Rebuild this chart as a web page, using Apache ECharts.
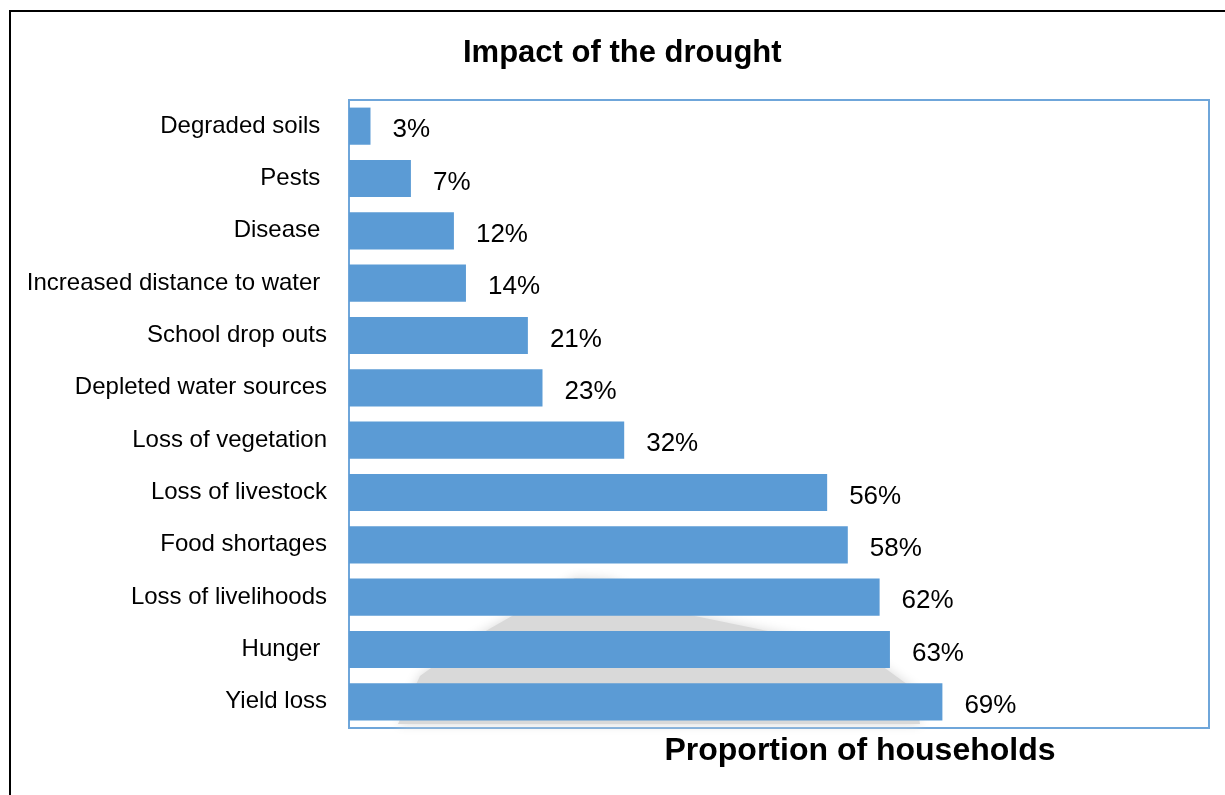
<!DOCTYPE html>
<html>
<head>
<meta charset="utf-8">
<script src="https://cdn.jsdelivr.net/npm/echarts@6/dist/echarts.min.js"></script>
<style>
html,body{margin:0;padding:0;background:#fff;}
#chart{width:1225px;height:795px;}
</style>
</head>
<body>
<div id="chart"></div>
<script>
var categories = ["Degraded soils ", "Pests ", "Disease ", "Increased distance to water ", "School drop outs", "Depleted water sources", "Loss of vegetation", "Loss of livestock", "Food shortages", "Loss of livelihoods", "Hunger ", "Yield loss"];
var values = [2.5, 7.2, 12.2, 13.6, 20.8, 22.5, 32, 55.6, 58, 61.7, 62.9, 69];
var titleText = "Impact of the drought";
var axisTitle = "Proportion of households";

var chart = echarts.init(document.getElementById('chart'), null, {renderer: 'canvas'});
var FONT = '"Liberation Sans", Arial, sans-serif';
chart.setOption({
  animation: false,
  backgroundColor: '#ffffff',
  title: {
    text: titleText,
    left: 458,
    top: 33,
    textStyle: {fontFamily: FONT, fontSize: 31, fontWeight: 'bold', color: '#000'}
  },
  grid: {
    left: 349, top: 100, width: 860, height: 628,
    show: true, borderColor: '#6fa6da', borderWidth: 2, backgroundColor: 'transparent'
  },
  graphic: [
    {
      type: 'rect', z: 100, silent: true,
      shape: {x: 10, y: 11, width: 1400, height: 1000},
      style: {fill: 'none', stroke: '#000', lineWidth: 2}
    },
    {
      type: 'polygon', z: 0, silent: true,
      shape: {points: [[398, 724], [420, 676], [470, 640], [540, 600], [575, 578], [610, 580], [690, 615], [860, 650], [915, 690], [920, 724]]},
      style: {fill: '#d9d9d9', shadowBlur: 12, shadowColor: '#d9d9d9'}
    }
  ],
  xAxis: {
    type: 'value', min: 0, max: 100,
    axisLine: {show: false}, axisTick: {show: false}, axisLabel: {show: false}, splitLine: {show: false},
    name: axisTitle, nameLocation: 'middle', nameGap: 7,
    nameTextStyle: {fontFamily: FONT, fontSize: 32, fontWeight: 'bold', color: '#000', padding: [0, 0, 0, 162], verticalAlign: 'top'}
  },
  yAxis: {
    type: 'category', data: categories, inverse: true,
    axisLine: {show: false}, axisTick: {show: false}, splitLine: {show: false},
    axisLabel: {fontFamily: FONT, fontSize: 24, color: '#000', margin: 22, padding: [3, 0, 0, 0]}
  },
  series: [{
    type: 'bar', data: values, barCategoryGap: '29%',
    itemStyle: {color: '#5b9bd5'},
    label: {
      show: true, position: 'right', distance: 22, offset: [0, 4],
      fontFamily: FONT, fontSize: 26, color: '#000',
      formatter: function (p) { return Math.round(p.value) + '%'; }
    }
  }]
});
</script>
</body>
</html>
